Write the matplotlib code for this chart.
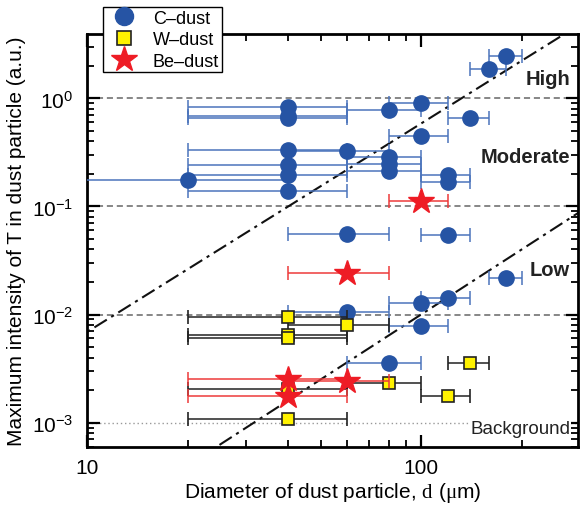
import numpy as np
import matplotlib
matplotlib.use('Agg')
import matplotlib.pyplot as plt
from matplotlib.lines import Line2D
from matplotlib.ticker import LogLocator, FixedLocator, FixedFormatter, NullFormatter

plt.rcParams['font.family'] = ['Liberation Sans', 'DejaVu Sans']
plt.rcParams['mathtext.fontset'] = 'custom'
plt.rcParams['mathtext.rm'] = 'Liberation Sans'
plt.rcParams['mathtext.it'] = 'Liberation Sans:italic'
plt.rcParams['mathtext.bf'] = 'Liberation Sans:bold'
plt.rcParams['mathtext.cal'] = 'Liberation Serif'

# ---------------- data ----------------
c_d = [180, 160, 100, 80, 140, 100, 40, 40, 40, 40, 60, 80, 80, 80, 40, 40, 40, 20,
       120, 120, 60, 120, 180, 100, 120, 60, 100, 80]
c_t = [2.45, 1.87, 0.905, 0.78, 0.66, 0.45, 0.825, 0.686, 0.653, 0.332, 0.327, 0.29,
       0.246, 0.214, 0.243, 0.195, 0.139, 0.175, 0.195, 0.167, 0.0554, 0.0547, 0.022,
       0.0129, 0.0141, 0.01057, 0.00785, 0.00354]
c_err_lo = [20] * 17 + [15] + [20] * 10
c_err_hi = [20] * 28

w_d = [40, 40, 40, 60, 40, 80, 140, 120, 40]
w_t = [0.00958, 0.00653, 0.0060, 0.00796, 0.00206, 0.0023, 0.00354, 0.00176, 0.00109]
w_err = [20] * 9

be_d = [100, 60, 40, 40, 60]
be_t = [0.113, 0.0241, 0.00255, 0.00176, 0.00243]
be_err = [20] * 5

levels_dashed = [1.0, 0.1, 0.01]
level_background = 1e-3

# boundary lines  T = T0 * (d / d0) ** slope
hi_d0, hi_t0, hi_slope = 40, 0.1, 1.93
lo_d0, lo_t0, lo_slope = 100, 0.01, 2.0

x_ticks = [10, 100]
x_ticklabels = ['10', '100']

# ---------------- style ----------------
blue = '#2654A4'
blue_bar = '#4B74BC'
red = '#EE1C25'
red_bar = '#EE3A3A'
yellow = '#FFF200'

fig = plt.figure(figsize=(5.8, 5.06), dpi=100)
ax = fig.add_axes([0.15, 0.114, 0.8466, 0.8168])
ax.set_xscale('log')
ax.set_yscale('log')
ax.set_xlim(10, 295)
ax.set_ylim(5.9e-4, 3.95)

for lv in levels_dashed:
    ax.axhline(lv, color='#666666', lw=1.1, dashes=(4, 2.5), zorder=1)
ax.axhline(level_background, color='#999999', lw=1.0, dashes=(1, 2), zorder=1)

dl = np.array([5.0, 400.0])
ax.plot(dl, hi_t0 * (dl / hi_d0) ** hi_slope, color='#111111', lw=1.5,
        dashes=(7, 2.5, 1.5, 2.5), zorder=2)
ax.plot(dl, lo_t0 * (dl / lo_d0) ** lo_slope, color='#111111', lw=1.5,
        dashes=(7, 2.5, 1.5, 2.5), zorder=2)

ax.errorbar(c_d, c_t, xerr=[c_err_lo, c_err_hi], fmt='o', ms=11, color=blue,
            mec=blue, ecolor=blue_bar, elinewidth=1.1, capsize=5, capthick=1.1,
            zorder=3)
ax.errorbar(w_d, w_t, xerr=w_err, fmt='s', ms=9, mfc=yellow, mec='#222222',
            mew=1.2, ecolor='#222222', elinewidth=1.1, capsize=5, capthick=1.1,
            zorder=4)
ax.errorbar(be_d, be_t, xerr=be_err, fmt='*', ms=19, color=red, mec=red,
            ecolor=red_bar, elinewidth=1.1, capsize=5, capthick=1.1, zorder=5)

# ticks
ax.xaxis.set_major_locator(FixedLocator(x_ticks))
ax.xaxis.set_major_formatter(FixedFormatter(x_ticklabels))
ax.xaxis.set_minor_locator(LogLocator(base=10, subs=np.arange(2, 10)))
ax.xaxis.set_minor_formatter(NullFormatter())
ax.yaxis.set_major_locator(LogLocator(base=10, numticks=10))
ax.yaxis.set_minor_locator(LogLocator(base=10, subs=np.arange(2, 10), numticks=20))
ax.yaxis.set_minor_formatter(NullFormatter())
ax.tick_params(which='both', direction='in', top=True, right=True)
ax.tick_params(which='major', length=9, width=1.6, labelsize=15)
ax.tick_params(which='minor', length=5, width=1.3)
ax.tick_params(axis='x', which='major', pad=8)
ax.tick_params(axis='y', which='major', pad=10)
for sp in ax.spines.values():
    sp.set_linewidth(2)

ax.set_xlabel('Diameter of dust particle, $\\mathcal{d}$ ($\\mathcal{μ}$m)', fontsize=15,
              labelpad=2)
ax.set_ylabel('Maximum intensity of T in dust particle (a.u.)', fontsize=15, labelpad=4)

ax.text(0.984, 0.893, 'High', transform=ax.transAxes, ha='right', va='center',
        fontsize=14.5, fontweight='bold', color='#222222')
ax.text(0.984, 0.704, 'Moderate', transform=ax.transAxes, ha='right', va='center',
        fontsize=14.5, fontweight='bold', color='#222222')
ax.text(0.984, 0.43, 'Low', transform=ax.transAxes, ha='right', va='center',
        fontsize=14.5, fontweight='bold', color='#222222')
ax.text(0.984, 0.045, 'Background', transform=ax.transAxes, ha='right', va='center',
        fontsize=13.5, color='#222222',
        bbox=dict(facecolor='white', edgecolor='none', pad=1))

handles = [
    Line2D([], [], ls='none', marker='o', ms=13, color=blue),
    Line2D([], [], ls='none', marker='s', ms=10, mfc=yellow, mec='#222222', mew=1.2),
    Line2D([], [], ls='none', marker='*', ms=19, color=red),
]
leg = ax.legend(handles, ['C–dust', 'W–dust', 'Be–dust'], loc='upper left',
                bbox_to_anchor=(103 / 580, 1 - 8 / 506), bbox_transform=fig.transFigure,
                borderaxespad=0, fontsize=13, frameon=True, fancybox=False,
                edgecolor='black', framealpha=1, handletextpad=0.6,
                labelspacing=0.25, borderpad=0.15, handlelength=2.0)
leg.get_frame().set_linewidth(1.0)
leg.set_zorder(10)

fig.savefig('out.png', dpi=100)
